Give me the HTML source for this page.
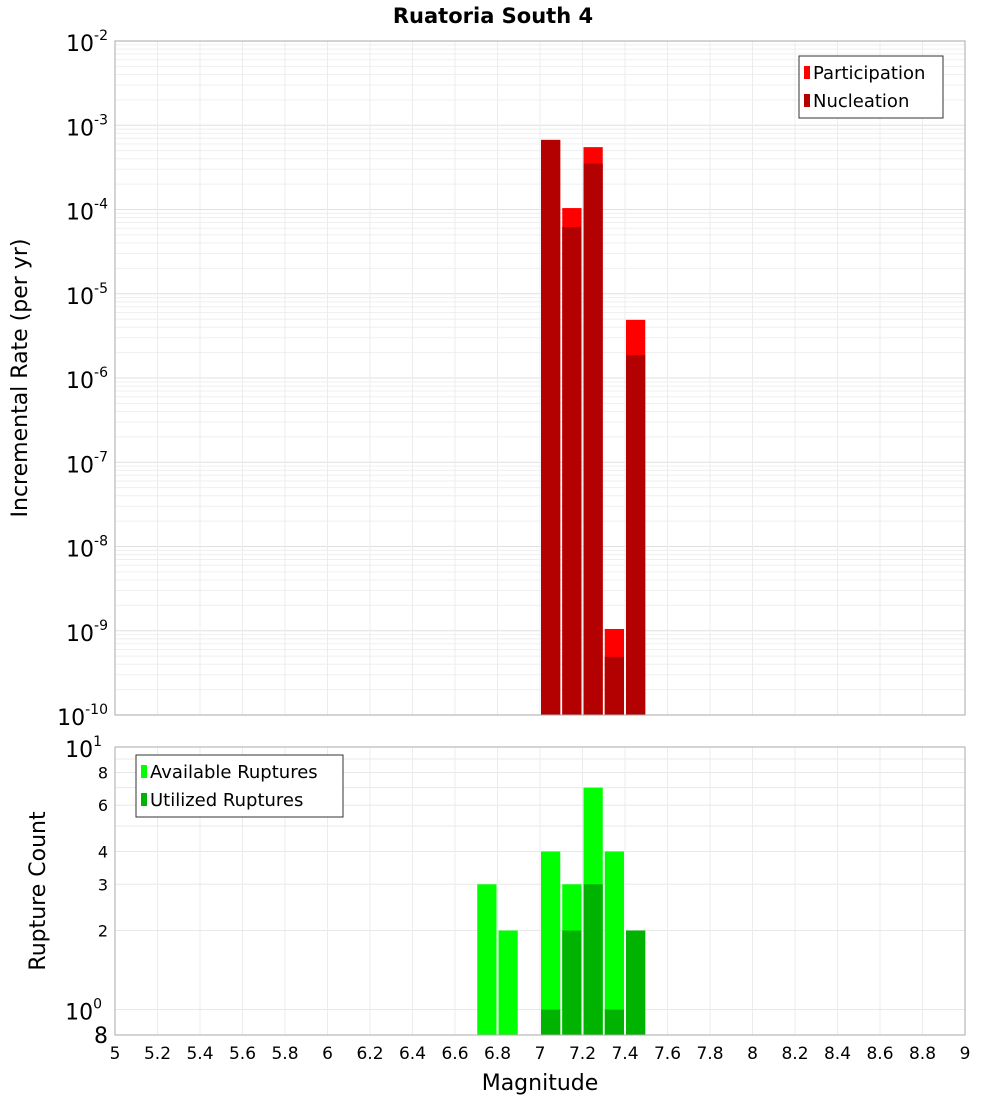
<!DOCTYPE html>
<html><head><meta charset="utf-8"><style>
body{margin:0;background:#fff;font-family:"Liberation Sans","DejaVu Sans",sans-serif}
svg text{font-family:"DejaVu Sans","Liberation Sans",sans-serif}
</style></head><body>
<svg id="c" width="1000" height="1100" xmlns="http://www.w3.org/2000/svg"></svg>
<script>
const binStarts=[6.7,6.8,7.0,7.1,7.2,7.3,7.4];
const topBins=[7.0,7.1,7.2,7.3,7.4];
const participation=[6.7e-4,1.04e-4,5.5e-4,1.05e-9,4.9e-6];
const nucleation=[6.7e-4,6.2e-5,3.5e-4,4.9e-10,1.87e-6];
const available=[3,2,4,3,7,4,2];
const utilized=[null,null,1,2,3,1,2];
const xTicks=[5,5.2,5.4,5.6,5.8,6,6.2,6.4,6.6,6.8,7,7.2,7.4,7.6,7.8,8,8.2,8.4,8.6,8.8,9];
const topExps=[-2,-3,-4,-5,-6,-7,-8,-9,-10];
const botTicks=[2,3,4,6,8];

const S=document.getElementById('c');const NS='http://www.w3.org/2000/svg';
function el(t,a,p){const e=document.createElementNS(NS,t);for(const k in a)e.setAttribute(k,a[k]);(p||S).appendChild(e);return e;}
const X0=115,X1=965;
const x=v=>X0+(v-5)/4*(X1-X0);
const T0=41,T1=715;
const yT=v=>T0+(-2-Math.log10(v))/8*(T1-T0);
const B0=747,B1=1035;
const yB=v=>B0+(1-Math.log10(v))/(1-Math.log10(0.8))*(B1-B0);

// grids
const g=el('g',{});
for(let e=-10;e<-2;e++)for(let m=1;m<10;m++){const yy=yT(m*Math.pow(10,e));el('line',{x1:X0,x2:X1,y1:yy,y2:yy,stroke:m==1?'#e0e0e0':'#efefef','stroke-width':1},g);}
for(let m=1;m<=10;m++){const yy=yB(m);el('line',{x1:X0,x2:X1,y1:yy,y2:yy,stroke:'#e8e8e8'},g);}
xTicks.forEach(t=>{el('line',{x1:x(t),x2:x(t),y1:T0,y2:T1,stroke:'#ececec'},g);el('line',{x1:x(t),x2:x(t),y1:B0,y2:B1,stroke:'#ececec'},g);});

// top bars
topBins.forEach((b,i)=>{
 let r=el('rect',{x:x(b)+1,width:x(b+0.1)-x(b)-2,y:yT(participation[i]),height:T1-yT(participation[i]),fill:'#ff0000'});
 
 r=el('rect',{x:x(b)+1,width:x(b+0.1)-x(b)-2,y:yT(nucleation[i]),height:T1-yT(nucleation[i]),fill:'#b30000'});
 
});
binStarts.forEach((b,i)=>{
 let r=el('rect',{x:x(b)+1,width:x(b+0.1)-x(b)-2,y:yB(available[i]),height:B1-yB(available[i]),fill:'#00ff00'});
 
 if(utilized[i]){r=el('rect',{x:x(b)+1,width:x(b+0.1)-x(b)-2,y:yB(utilized[i]),height:B1-yB(utilized[i]),fill:'#00b300'});
 }
});
el('rect',{x:X0,y:T0,width:X1-X0,height:T1-T0,fill:'none',stroke:'#aaa'});
el('rect',{x:X0,y:B0,width:X1-X0,height:B1-B0,fill:'none',stroke:'#aaa'});

// top y labels
topExps.forEach(e=>{const t=el('text',{x:108,y:yT(Math.pow(10,e))+10,'text-anchor':'end','font-size':22});
 
 t.innerHTML='10<tspan dy="-11" font-size="14">'+e+'</tspan>';});
[[10,'1'],[1,'0']].forEach(([v,e])=>{const t=el('text',{x:102,y:yB(v)+10,'text-anchor':'end','font-size':22});
 
 t.innerHTML='10<tspan dy="-11" font-size="14">'+e+'</tspan>';});
botTicks.forEach(v=>{const t=el('text',{x:108,y:yB(v)+6,'text-anchor':'end','font-size':16});t.textContent=v;
 });
let t8=el('text',{x:108,y:B1+8,'text-anchor':'end','font-size':22});t8.textContent='8';
xTicks.forEach(v=>{const t=el('text',{x:x(v),y:1059,'text-anchor':'middle','font-size':17});t.textContent=String(v);
 });

function txt(s,a,n){const t=el('text',a);t.textContent=s;return t;}
txt('Ruatoria South 4',{x:493,y:23,'text-anchor':'middle','font-size':21,'font-weight':'bold'},'chart-title');
txt('Magnitude',{x:540,y:1090,'text-anchor':'middle','font-size':22},'x-axis-title');
txt('Incremental Rate (per yr)',{x:0,y:0,'text-anchor':'middle','font-size':22,transform:'translate(27,378) rotate(-90)'},'top-y-axis-title');
txt('Rupture Count',{x:0,y:0,'text-anchor':'middle','font-size':22,transform:'translate(45,891) rotate(-90)'},'bottom-y-axis-title');

// legends
function legend(x0,y0,w,items,n){const lg=el('g',{});
 el('rect',{x:x0,y:y0,width:w,height:62,fill:'#fff',stroke:'#333'},lg);
 items.forEach(([c,s],i)=>{el('rect',{x:x0+5,y:y0+10+i*28,width:6,height:13,fill:c},lg);
  const t=el('text',{x:x0+14,y:y0+23+i*28,'font-size':18},lg);t.textContent=s;});}
legend(799,56,144,[['#ff0000','Participation'],['#b30000','Nucleation']],'top-legend');
legend(136,755,207,[['#00ff00','Available Ruptures'],['#00b300','Utilized Ruptures']],'bottom-legend');
</script>
</body></html>
